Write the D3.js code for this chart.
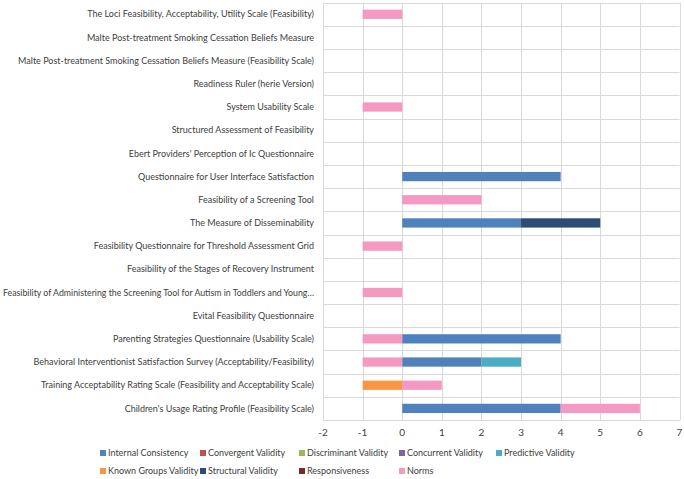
<!DOCTYPE html>
<html><head><meta charset="utf-8">
<script src="https://cdn.jsdelivr.net/npm/d3@7"></script>
<style>body{margin:0;background:#fff;} text{font-family:Lato, "Open Sans", sans-serif;fill:#404040;}</style>
</head><body><svg id="c" width="684" height="479"></svg>
<script>
const categories = [
 "The Loci Feasibility, Acceptability, Utility Scale (Feasibility)",
 "Malte Post-treatment Smoking Cessation Beliefs Measure",
 "Malte Post-treatment Smoking Cessation Beliefs Measure (Feasibility Scale)",
 "Readiness Ruler (herie Version)",
 "System Usability Scale",
 "Structured Assessment of Feasibility",
 "Ebert Providers' Perception of Ic Questionnaire",
 "Questionnaire for User Interface Satisfaction",
 "Feasibility of a Screening Tool",
 "The Measure of Disseminability",
 "Feasibility Questionnaire for Threshold Assessment Grid",
 "Feasibility of the Stages of Recovery Instrument",
 "Feasibility of Administering the Screening Tool for Autism in Toddlers and Young…",
 "Evital Feasibility Questionnaire",
 "Parenting Strategies Questionnaire (Usability Scale)",
 "Behavioral Interventionist Satisfaction Survey (Acceptability/Feasibility)",
 "Training Acceptability Rating Scale (Feasibility and Acceptability Scale)",
 "Children's Usage Rating Profile (Feasibility Scale)"
];
const seriesNames = ["Internal Consistency","Convergent Validity","Discriminant Validity","Concurrent Validity","Predictive Validity","Known Groups Validity","Structural Validity","Responsiveness","Norms"];
const seriesColors = ["#4f81bd","#c0504d","#9bbb59","#8064a2","#4bacc6","#f79646","#2c4d75","#772c2a","#f49ac2"];
const internalConsistency = [0,0,0,0,0,0,0,4,0,3,0,0,0,0,4,2,0,4];
const convergentValidity  = [0,0,0,0,0,0,0,0,0,0,0,0,0,0,0,0,0,0];
const discriminantValidity= [0,0,0,0,0,0,0,0,0,0,0,0,0,0,0,0,0,0];
const concurrentValidity  = [0,0,0,0,0,0,0,0,0,0,0,0,0,0,0,0,0,0];
const predictiveValidity  = [0,0,0,0,0,0,0,0,0,0,0,0,0,0,0,1,0,0];
const knownGroupsValidity = [0,0,0,0,0,0,0,0,0,0,0,0,0,0,0,0,-1,0];
const structuralValidity  = [0,0,0,0,0,0,0,0,0,2,0,0,0,0,0,0,0,0];
const responsiveness      = [0,0,0,0,0,0,0,0,0,0,0,0,0,0,0,0,0,0];
const norms               = [-1,0,0,0,-1,0,0,0,2,0,-1,0,-1,0,-1,-1,1,2];
const xTicks = [-2,-1,0,1,2,3,4,5,6,7];

const seriesValues = [internalConsistency,convergentValidity,discriminantValidity,concurrentValidity,predictiveValidity,knownGroupsValidity,structuralValidity,responsiveness,norms];
const rows = categories.map((c,i)=>{const o={cat:c}; seriesNames.forEach((s,j)=>o[s]=seriesValues[j][i]); return o;});

const svg = d3.select("#c");
const L=323, R=679.5, T=2.7, B=420;
const x = d3.scaleLinear().domain([-2,7]).range([L,R]);
const y = d3.scaleBand().domain(categories).range([T,B]).paddingInner(0.6).paddingOuter(0.3);
const band = d3.scaleBand().domain(categories).range([T,B]);

const g = svg.append("g");
const hLines = categories.map(c=>band(c)).concat([B]);
g.selectAll(".hg").data(hLines).enter().append("line")
 .attr("x1",L).attr("x2",R).attr("y1",d=>Math.round(d)+0.5).attr("y2",d=>Math.round(d)+0.5)
 .attr("stroke","#d9d9d9").attr("stroke-width",1);
g.selectAll(".vg").data(xTicks).enter().append("line")
 .attr("x1",d=>Math.round(x(d))+0.5).attr("x2",d=>Math.round(x(d))+0.5).attr("y1",T).attr("y2",B)
 .attr("stroke","#d9d9d9").attr("stroke-width",1);

const stack = d3.stack().keys(seriesNames).offset(d3.stackOffsetDiverging)(rows);
stack.forEach((layer,j)=>{
  g.append("g").attr("fill",seriesColors[j]).selectAll("rect").data(layer.filter(d=>d[1]!==d[0])).enter().append("rect")
   .attr("x",d=>x(Math.min(d[0],d[1]))).attr("width",d=>Math.abs(x(d[1])-x(d[0])))
   .attr("y",d=>y(d.data.cat)).attr("height",y.bandwidth());
});

g.selectAll(".xt").data(xTicks).enter().append("text")
 .attr("x",d=>x(d)).attr("y",436).attr("text-anchor","middle").attr("font-size","10px").text(d=>d);

g.selectAll(".yl").data(categories).enter().append("text")
 .attr("x",314).attr("y",d=>band(d)+band.bandwidth()/2).attr("dy","0.35em")
 .attr("text-anchor","end").attr("font-size","9px").text(d=>d)
 .each(function(){ const w=this.getComputedTextLength(); if(w>311){ d3.select(this).attr("textLength",311).attr("lengthAdjust","spacingAndGlyphs"); } });

const legX=[100,200,299,399,496], legY=[453,471];
const legPos = [[0,0],[1,0],[2,0],[3,0],[4,0],[0,1],[1,1],[2,1],[3,1]];
const lg = svg.append("g").selectAll("g").data(seriesNames).enter().append("g")
 .attr("transform",(d,i)=>`translate(${legX[legPos[i][0]]},${legY[legPos[i][1]]})`);
lg.append("rect").attr("x",0).attr("y",-3).attr("width",6).attr("height",6).attr("fill",(d,i)=>seriesColors[i]);
lg.append("text").attr("x",8).attr("y",0).attr("dy","0.35em").attr("font-size","9px").text(d=>d);
</script></body></html>
